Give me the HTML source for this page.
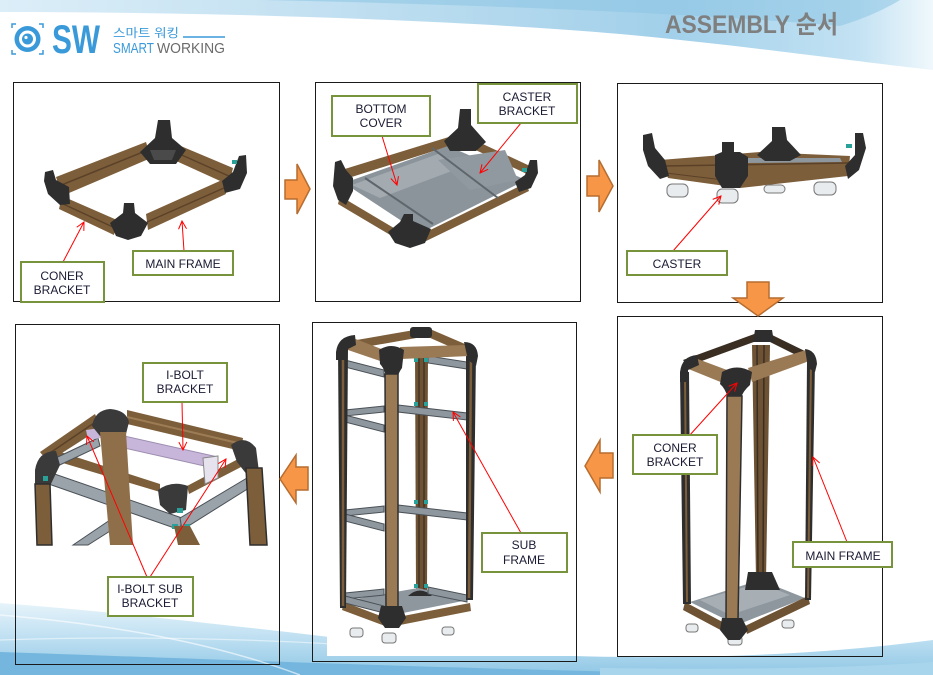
<!DOCTYPE html>
<html><head><meta charset="utf-8"><style>
html,body{margin:0;padding:0;background:#fff;}
svg{display:block;}
</style></head><body>
<svg width="933" height="675" viewBox="0 0 933 675" xmlns="http://www.w3.org/2000/svg" font-family="Liberation Sans, 'Noto Sans CJK KR', sans-serif">
<defs>
<linearGradient id="tw" x1="0" y1="0" x2="933" y2="0" gradientUnits="userSpaceOnUse">
 <stop offset="0" stop-color="#DCEEF8"/>
 <stop offset="0.4" stop-color="#BEDEF0"/>
 <stop offset="0.72" stop-color="#A2D0EA"/>
 <stop offset="0.92" stop-color="#C3E2F3"/>
 <stop offset="1" stop-color="#F0F8FC"/>
</linearGradient>
<linearGradient id="bw" x1="0" y1="600" x2="0" y2="675" gradientUnits="userSpaceOnUse">
 <stop offset="0" stop-color="#EAF5FB"/>
 <stop offset="0.5" stop-color="#BFE0F2"/>
 <stop offset="1" stop-color="#8FC7E5"/>
</linearGradient>
<marker id="ah" markerWidth="10" markerHeight="10" refX="9" refY="5" orient="auto" markerUnits="userSpaceOnUse"><path d="M1,1 L9,5 L1,9" fill="none" stroke="#FF0000" stroke-width="1"/></marker>
</defs>

<!-- background waves -->
<path d="M0,0 H933 V70 C860,62 740,45 620,34 C480,22 250,12 0,12 Z" fill="url(#tw)"/>
<path d="M260,0 H900 C880,12 860,20 840,26 C700,14 500,5 260,0 Z" fill="#8CC4E4" opacity="0.55"/>
<path d="M0,14 C250,16 480,26 620,38" fill="none" stroke="#ffffff" stroke-width="3" opacity="0.6"/>
<path d="M0,603 C120,612 250,628 400,645 C550,660 750,664 933,640 L933,675 L0,675 Z" fill="url(#bw)"/>
<path d="M0,652 C150,657 350,665 620,672 L620,675 L0,675 Z" fill="#74B6DE"/>
<path d="M600,668 C750,670 850,668 933,662 L933,675 L600,675 Z" fill="#A9D5EC"/>
<path d="M0,615 C120,625 220,645 300,675" fill="none" stroke="#ffffff" stroke-width="1.5" opacity="0.6"/>
<path d="M0,640 C150,635 300,640 420,650" fill="none" stroke="#ffffff" stroke-width="1.2" opacity="0.5"/>

<!-- logo -->
<g stroke="#3A9AD9" stroke-width="1.5" fill="none">
 <path d="M12,28 V24 H16"/><path d="M39,24 H43 V28"/><path d="M12,50 V54 H16"/><path d="M39,54 H43 V50"/>
</g>
<circle cx="27.5" cy="39" r="13" fill="#3A9AD9"/>
<circle cx="27.5" cy="39" r="8.5" fill="#fff"/>
<circle cx="27.5" cy="39" r="5.5" fill="#3A9AD9"/>
<circle cx="26" cy="37.5" r="1.6" fill="#fff"/>
<text x="52" y="53" font-size="40" font-weight="bold" fill="#3A9AD9" textLength="48" lengthAdjust="spacingAndGlyphs">SW</text>
<text x="113" y="37" font-size="12" fill="#3A9AD9" textLength="66" lengthAdjust="spacingAndGlyphs">스마트 워킹</text>
<line x1="183" y1="37" x2="225" y2="37" stroke="#3A9AD9" stroke-width="1.5"/>
<text x="113" y="53" font-size="15" fill="#3A9AD9" textLength="41" lengthAdjust="spacingAndGlyphs">SMART</text>
<text x="157" y="53" font-size="15" fill="#6B6B6B" textLength="68" lengthAdjust="spacingAndGlyphs">WORKING</text>

<!-- title -->
<text x="665" y="33" font-size="25" font-weight="bold" fill="#7F7F7F" textLength="173" lengthAdjust="spacingAndGlyphs">ASSEMBLY 순서</text>

<!-- ===== PANEL 1 ===== -->
<g>
 <polygon points="56,177 146,142 151,158 62,196" fill="#7D5E3A"/>
 <line x1="59" y1="186" x2="148" y2="150" stroke="#5A4128" stroke-width="1.5"/>
 <polygon points="176,144 233,168 229,185 174,160" fill="#7D5E3A"/>
 <line x1="175" y1="152" x2="231" y2="177" stroke="#5A4128" stroke-width="1.5"/>
 <polygon points="62,196 117,220 114,235 59,209" fill="#7D5E3A"/>
 <line x1="61" y1="203" x2="115" y2="228" stroke="#5A4128" stroke-width="1.5"/>
 <polygon points="146,214 222,180 226,194 148,230" fill="#7D5E3A"/>
 <line x1="147" y1="222" x2="224" y2="188" stroke="#5A4128" stroke-width="1.5"/>
 <!-- brackets -->
 <polygon points="158,120 170,120 172,138 186,150 176,164 150,164 140,152 155,138" fill="#2E2E2E"/>
 <polygon points="150,150 176,150 172,160 154,160" fill="#4A4A4A"/>
 <polygon points="45,172 53,170 56,180 69,187 70,204 60,205 48,194 44,181" fill="#2E2E2E"/>
 <polygon points="239,156 246,155 247,173 240,189 225,193 222,181 233,172" fill="#2E2E2E"/>
 <rect x="232" y="160" width="5" height="4" fill="#2AA198"/>
 <polygon points="110,223 123,213 124,203 134,203 135,213 148,223 141,236 128,240 116,236" fill="#2E2E2E"/>
</g>
<rect x="13.5" y="82.5" width="266" height="219" fill="none" stroke="#1a1a1a" stroke-width="1"/>

<!-- ===== PANEL 2 ===== -->
<g>
 <polygon points="335,172 452,136 456,144 339,181" fill="#7D5E3A"/>
 <polygon points="470,138 530,166 527,174 467,146" fill="#7D5E3A"/>
 <polygon points="340,196 404,234 402,242 338,204" fill="#7D5E3A"/>
 <polygon points="418,236 526,183 529,191 420,244" fill="#7D5E3A"/>
 <polygon points="344,183 448,146 526,180 420,233" fill="#8B949B"/>
 <polygon points="352,185 438,154 465,166 380,198" fill="#A3ABB1"/>
 <polygon points="438,160 505,150 518,180 470,190" fill="#9199A0"/>
 <line x1="365" y1="178" x2="433" y2="224" stroke="#5F676D" stroke-width="2"/>
 <line x1="432" y1="148" x2="498" y2="198" stroke="#5F676D" stroke-width="2"/>
 <polygon points="335,162 341,160 346,170 353,178 353,191 346,205 338,200 333,186" fill="#2E2E2E"/>
 <polygon points="460,109 471,109 471,125 486,142 476,151 450,151 444,141 458,128" fill="#2E2E2E"/>
 <polygon points="530,160 537,160 538,173 531,188 519,192 515,182 525,175" fill="#2E2E2E"/>
 <rect x="522" y="168" width="5" height="4" fill="#2AA198"/>
 <polygon points="388,232 400,222 404,214 413,214 413,221 431,229 425,243 410,248 395,243" fill="#2E2E2E"/>
</g>
<rect x="315.5" y="82.5" width="265" height="219" fill="none" stroke="#1a1a1a" stroke-width="1"/>

<!-- ===== PANEL 3 ===== -->
<g>
 <polygon points="660,160 760,152 850,156 848,176 740,188 668,178" fill="#7D5E3A"/>
 <line x1="664" y1="166" x2="848" y2="163" stroke="#5A4128" stroke-width="1.5"/>
 <line x1="666" y1="173" x2="740" y2="182" stroke="#5A4128" stroke-width="1"/>
 <polygon points="745,158 840,158 842,162 745,163" fill="#8E979E"/>
 <polygon points="643,135 652,133 655,148 665,160 669,176 660,179 648,166 643,150" fill="#2E2E2E"/>
 <polygon points="855,133 863,133 866,148 859,170 848,179 845,166 855,155" fill="#2E2E2E"/>
 <rect x="846" y="144" width="6" height="4" fill="#2AA198"/>
 <polygon points="722,142 734,142 734,152 740,152 748,157 748,176 740,188 722,188 715,176 715,155 722,152" fill="#2E2E2E"/>
 <polygon points="772,127 785,127 787,140 801,155 790,161 765,161 757,155 772,141" fill="#2E2E2E"/>
 <!-- casters -->
 <g fill="#E9ECEE" stroke="#777" stroke-width="1">
  <rect x="667" y="184" width="21" height="13" rx="5"/>
  <rect x="717" y="189" width="21" height="14" rx="5"/>
  <rect x="764" y="185" width="21" height="8" rx="4"/>
  <rect x="814" y="182" width="22" height="13" rx="5"/>
 </g>
</g>
<rect x="617.5" y="83.5" width="265" height="219" fill="none" stroke="#1a1a1a" stroke-width="1"/>

<!-- ===== PANEL 6 (bottom right) ===== -->
<g>
 <polygon points="752,345 770,345 766,580 756,580" fill="#6E5234"/>
 <line x1="757" y1="345" x2="758" y2="580" stroke="#3A2E22" stroke-width="1.5"/>
 <line x1="764" y1="345" x2="763" y2="580" stroke="#3A2E22" stroke-width="1.5"/>
 <polygon points="690,602 760,580 805,598 737,625" fill="#8E979E"/>
 <polygon points="700,600 760,583 790,595 730,615" fill="#A7AFB5"/>
 <polygon points="685,602 730,626 728,634 683,610" fill="#6E5234"/>
 <polygon points="745,626 808,596 810,604 747,634" fill="#6E5234"/>
 <polygon points="748,572 772,572 780,590 745,590" fill="#2E2E2E"/>
 <g fill="#E9ECEE" stroke="#777" stroke-width="1">
  <rect x="686" y="624" width="12" height="8" rx="3"/>
  <rect x="728" y="636" width="14" height="9" rx="3"/>
  <rect x="782" y="620" width="12" height="8" rx="3"/>
 </g>
 <polygon points="683,360 757,333 762,339 688,366" fill="#3A2E22"/>
 <polygon points="768,333 813,355 810,362 766,340" fill="#3A2E22"/>
 <polygon points="755,330 772,330 774,342 753,342" fill="#2E2E2E"/>
 <polygon points="680,372 689,372 691,604 683,604" fill="#2E2E2E"/>
 <line x1="685" y1="375" x2="687" y2="602" stroke="#7D5E3A" stroke-width="2"/>
 <polygon points="807,362 815,362 811,600 805,600" fill="#2E2E2E"/>
 <line x1="811" y1="365" x2="808" y2="598" stroke="#7D5E3A" stroke-width="2"/>
 <polygon points="695,358 727,370 723,383 686,368" fill="#9A7A55"/>
 <polygon points="748,368 806,350 812,360 752,382" fill="#9A7A55"/>
 <path d="M722,372 Q737,363 752,372 L750,385 Q743,391 741,398 L728,398 Q725,388 720,384 Z" fill="#2E2E2E"/>
 <path d="M680,372 Q682,356 697,355 L699,365 L688,370 L688,382 L680,382 Z" fill="#2E2E2E"/>
 <path d="M805,349 Q816,350 817,364 L815,372 L808,368 Z" fill="#2E2E2E"/>
 <polygon points="727,396 742,396 738,620 726,620" fill="#9A7A55" stroke="#2E2E2E" stroke-width="1.5"/>
 <path d="M722,618 L742,618 L748,630 L740,640 L728,640 L720,630 Z" fill="#2E2E2E"/>
</g>
<rect x="617.5" y="316.5" width="265" height="340" fill="none" stroke="#1a1a1a" stroke-width="1"/>

<!-- ===== PANEL 5 (bottom middle) ===== -->
<rect x="327" y="323" width="249" height="333" fill="#fff"/>
<g>
 <polygon points="415,352 428,352 427,592 416,592" fill="#6E5234"/>
 <line x1="419" y1="352" x2="419" y2="592" stroke="#3A2E22" stroke-width="1.2"/>
 <line x1="424" y1="352" x2="424" y2="592" stroke="#3A2E22" stroke-width="1.2"/>
 <polygon points="345,342 420,329 422,337 348,350" fill="#7D5E3A"/>
 <polygon points="430,329 472,347 469,355 428,337" fill="#7D5E3A"/>
 <rect x="410" y="327" width="22" height="11" rx="3" fill="#2E2E2E"/>
 <polygon points="350,600 418,588 468,600 398,614" fill="#8E979E"/>
 <polygon points="344,602 386,618 385,626 342,610" fill="#7D5E3A"/>
 <polygon points="398,617 470,603 471,611 400,625" fill="#7D5E3A"/>
 <path d="M408,596 Q420,585 432,596 Z" fill="#2E2E2E"/>
 <g fill="#E9ECEE" stroke="#777" stroke-width="1">
  <rect x="350" y="628" width="13" height="9" rx="3"/>
  <rect x="382" y="633" width="14" height="10" rx="3"/>
  <rect x="442" y="627" width="12" height="8" rx="3"/>
 </g>
 <g fill="#8E979E" stroke="#4A5157" stroke-width="1">
  <polygon points="345,360 384,370 384,377 345,367"/>
  <polygon points="428,356 467,362 467,369 428,363"/>
  <polygon points="345,410 384,406 384,412 345,416"/>
  <polygon points="345,415 384,425 384,432 345,422"/>
  <polygon points="398,405 467,413 467,420 398,412"/>
  <polygon points="345,510 384,506 384,512 345,516"/>
  <polygon points="345,514 384,524 384,531 345,521"/>
  <polygon points="398,505 467,513 467,520 398,512"/>
  <polygon points="345,593 384,589 384,595 345,599"/>
  <polygon points="345,596 384,606 384,613 345,603"/>
  <polygon points="428,587 467,595 467,602 428,594"/>
 </g>
 <g fill="#2AA198">
  <rect x="414" y="358" width="4" height="4"/><rect x="424" y="358" width="4" height="4"/>
  <rect x="414" y="402" width="4" height="4"/><rect x="424" y="402" width="4" height="4"/>
  <rect x="414" y="500" width="4" height="4"/><rect x="424" y="500" width="4" height="4"/>
  <rect x="414" y="584" width="4" height="4"/><rect x="424" y="584" width="4" height="4"/>
 </g>
 <polygon points="338,348 348,348 346,608 340,608" fill="#2E2E2E"/>
 <line x1="343" y1="350" x2="343" y2="606" stroke="#7D5E3A" stroke-width="2.5"/>
 <polygon points="466,352 476,352 473,600 466,600" fill="#2E2E2E"/>
 <line x1="471" y1="355" x2="469" y2="598" stroke="#7D5E3A" stroke-width="2.5"/>
 <polygon points="353,338 384,350 383,362 348,350" fill="#9A7A55"/>
 <polygon points="400,347 466,345 470,356 401,359" fill="#9A7A55"/>
 <path d="M336,352 Q338,336 355,335 L356,345 L346,350 L346,360 L336,360 Z" fill="#2E2E2E"/>
 <path d="M464,342 Q477,342 478,356 L476,366 L468,360 Z" fill="#2E2E2E"/>
 <path d="M379,350 Q391,342 404,350 L402,368 Q399,372 398,376 L386,376 Q384,368 380,364 Z" fill="#2E2E2E"/>
 <polygon points="385,374 398,374 398,610 386,610" fill="#9A7A55" stroke="#2E2E2E" stroke-width="1.5"/>
 <path d="M381,606 L402,606 L406,618 L399,628 L385,628 L378,618 Z" fill="#2E2E2E"/>
</g>
<rect x="312.5" y="322.5" width="264" height="339" fill="none" stroke="#1a1a1a" stroke-width="1"/>

<!-- ===== PANEL 4 (bottom left) ===== -->
<g>
 <polygon points="48,448 160,484 160,492 46,458" fill="#7D5E3A"/>
 <polygon points="187,486 240,458 243,466 189,494" fill="#7D5E3A"/>
 <g fill="#9AA3AA" stroke="#4A5157" stroke-width="1">
  <polygon points="43,470 182,518 180,530 43,482"/>
  <polygon points="180,518 247,478 249,488 182,530"/>
  <polygon points="45,463 98,438 100,446 47,471"/>
  <polygon points="73,545 110,520 118,526 88,545"/>
 </g>
 <polygon points="95,414 101,428 48,462 40,452" fill="#7D5E3A"/>
 <line x1="97" y1="421" x2="44" y2="457" stroke="#5A4128" stroke-width="1.5"/>
 <polygon points="127,410 243,438 241,451 127,424" fill="#7D5E3A"/>
 <line x1="127" y1="417" x2="242" y2="444" stroke="#9C7C55" stroke-width="2"/>
 <polygon points="124,436 218,457 218,469 124,448" fill="#C7B6DA" stroke="#9D8DB0" stroke-width="1"/>
 <polygon points="86,430 100,428 101,438 88,440" fill="#C7B6DA"/>
 <polygon points="203,458 218,456 218,478 205,484" fill="#E7E3EE" stroke="#888" stroke-width="1"/>
 <path d="M92,426 Q95,410 110,409 Q126,410 129,422 L126,434 L100,436 Z" fill="#3A3A3A"/>
 <path d="M231,445 Q245,434 256,448 L259,472 L248,476 L237,462 Z" fill="#3A3A3A"/>
 <path d="M35,470 Q38,451 56,451 L60,465 L50,486 L35,486 Z" fill="#3A3A3A"/>
 <path d="M158,490 Q172,480 188,486 L186,510 L170,514 L160,505 Z" fill="#3A3A3A"/>
 <g fill="#2AA198">
  <rect x="43" y="476" width="5" height="5"/><rect x="177" y="508" width="6" height="5"/>
  <rect x="172" y="524" width="6" height="5"/><rect x="184" y="524" width="6" height="5"/>
 </g>
 <polygon points="35,484 50,484 52,545 37,545" fill="#7D5E3A" stroke="#2E2E2E" stroke-width="1.5"/>
 <polygon points="246,468 262,468 267,545 250,545" fill="#7D5E3A" stroke="#2E2E2E" stroke-width="1.5"/>
 <polygon points="174,526 190,526 200,545 178,545" fill="#7D5E3A"/>
 <polygon points="100,432 126,432 133,545 110,545" fill="#8F6F4A"/>
</g>
<rect x="15.5" y="324.5" width="264" height="340" fill="none" stroke="#1a1a1a" stroke-width="1"/>

<!-- ===== ORANGE ARROWS ===== -->
<g fill="#F79646" stroke="#B66D31" stroke-width="1.5" stroke-linejoin="miter">
 <polygon points="285,180 297,180 297,164 310,189 297,214 297,199 285,199"/>
 <polygon points="587,176 599,176 599,160 613,186 599,212 599,196 587,196"/>
 <polygon points="747,282 769,282 769,298 783,298 758,316 733,298 747,298"/>
 <polygon points="613,453 600,453 600,440 585,466 600,492 600,478 613,478"/>
 <polygon points="308,467 296,467 296,455 280,479 296,503 296,490 308,490"/>
</g>

<!-- ===== LEADER LINES ===== -->
<g stroke="#FF0000" stroke-width="1" fill="none" marker-end="url(#ah)">
 <line x1="63" y1="262" x2="84" y2="222"/>
 <line x1="184" y1="251" x2="182" y2="221"/>
 <line x1="382" y1="136" x2="397" y2="185"/>
 <line x1="521" y1="123" x2="480" y2="173"/>
 <line x1="673" y1="251" x2="721" y2="196"/>
 <line x1="689" y1="436" x2="737" y2="383"/>
 <line x1="847" y1="542" x2="813" y2="457"/>
 <line x1="521" y1="533" x2="453" y2="412"/>
 <line x1="182" y1="402" x2="183" y2="450"/>
 <line x1="147" y1="577" x2="87" y2="436"/>
 <line x1="150" y1="577" x2="226" y2="459"/>
</g>

<!-- ===== LABEL BOXES ===== -->
<g fill="#fff" stroke="#77933C" stroke-width="2">
 <rect x="21" y="262" width="83" height="40"/>
 <rect x="133" y="251" width="100" height="24"/>
 <rect x="332" y="96" width="98" height="40"/>
 <rect x="478" y="84" width="99" height="39"/>
 <rect x="627" y="251" width="100" height="24"/>
 <rect x="633" y="435" width="84" height="39"/>
 <rect x="793" y="542" width="99" height="25"/>
 <rect x="482" y="533" width="85" height="39"/>
 <rect x="143" y="363" width="84" height="39"/>
 <rect x="108" y="577" width="85" height="39"/>
</g>
<g font-size="12" fill="#1A1A33" text-anchor="middle">
 <text x="62" y="280">CONER</text><text x="62" y="294">BRACKET</text>
 <text x="183" y="268">MAIN FRAME</text>
 <text x="381" y="113">BOTTOM</text><text x="381" y="127">COVER</text>
 <text x="527" y="101">CASTER</text><text x="527" y="115">BRACKET</text>
 <text x="677" y="268">CASTER</text>
 <text x="675" y="452">CONER</text><text x="675" y="466">BRACKET</text>
 <text x="843" y="560">MAIN FRAME</text>
 <text x="524" y="549">SUB</text><text x="524" y="564">FRAME</text>
 <text x="185" y="379">I-BOLT</text><text x="185" y="393">BRACKET</text>
 <text x="150" y="593">I-BOLT SUB</text><text x="150" y="607">BRACKET</text>
</g>
</svg>
</body></html>
